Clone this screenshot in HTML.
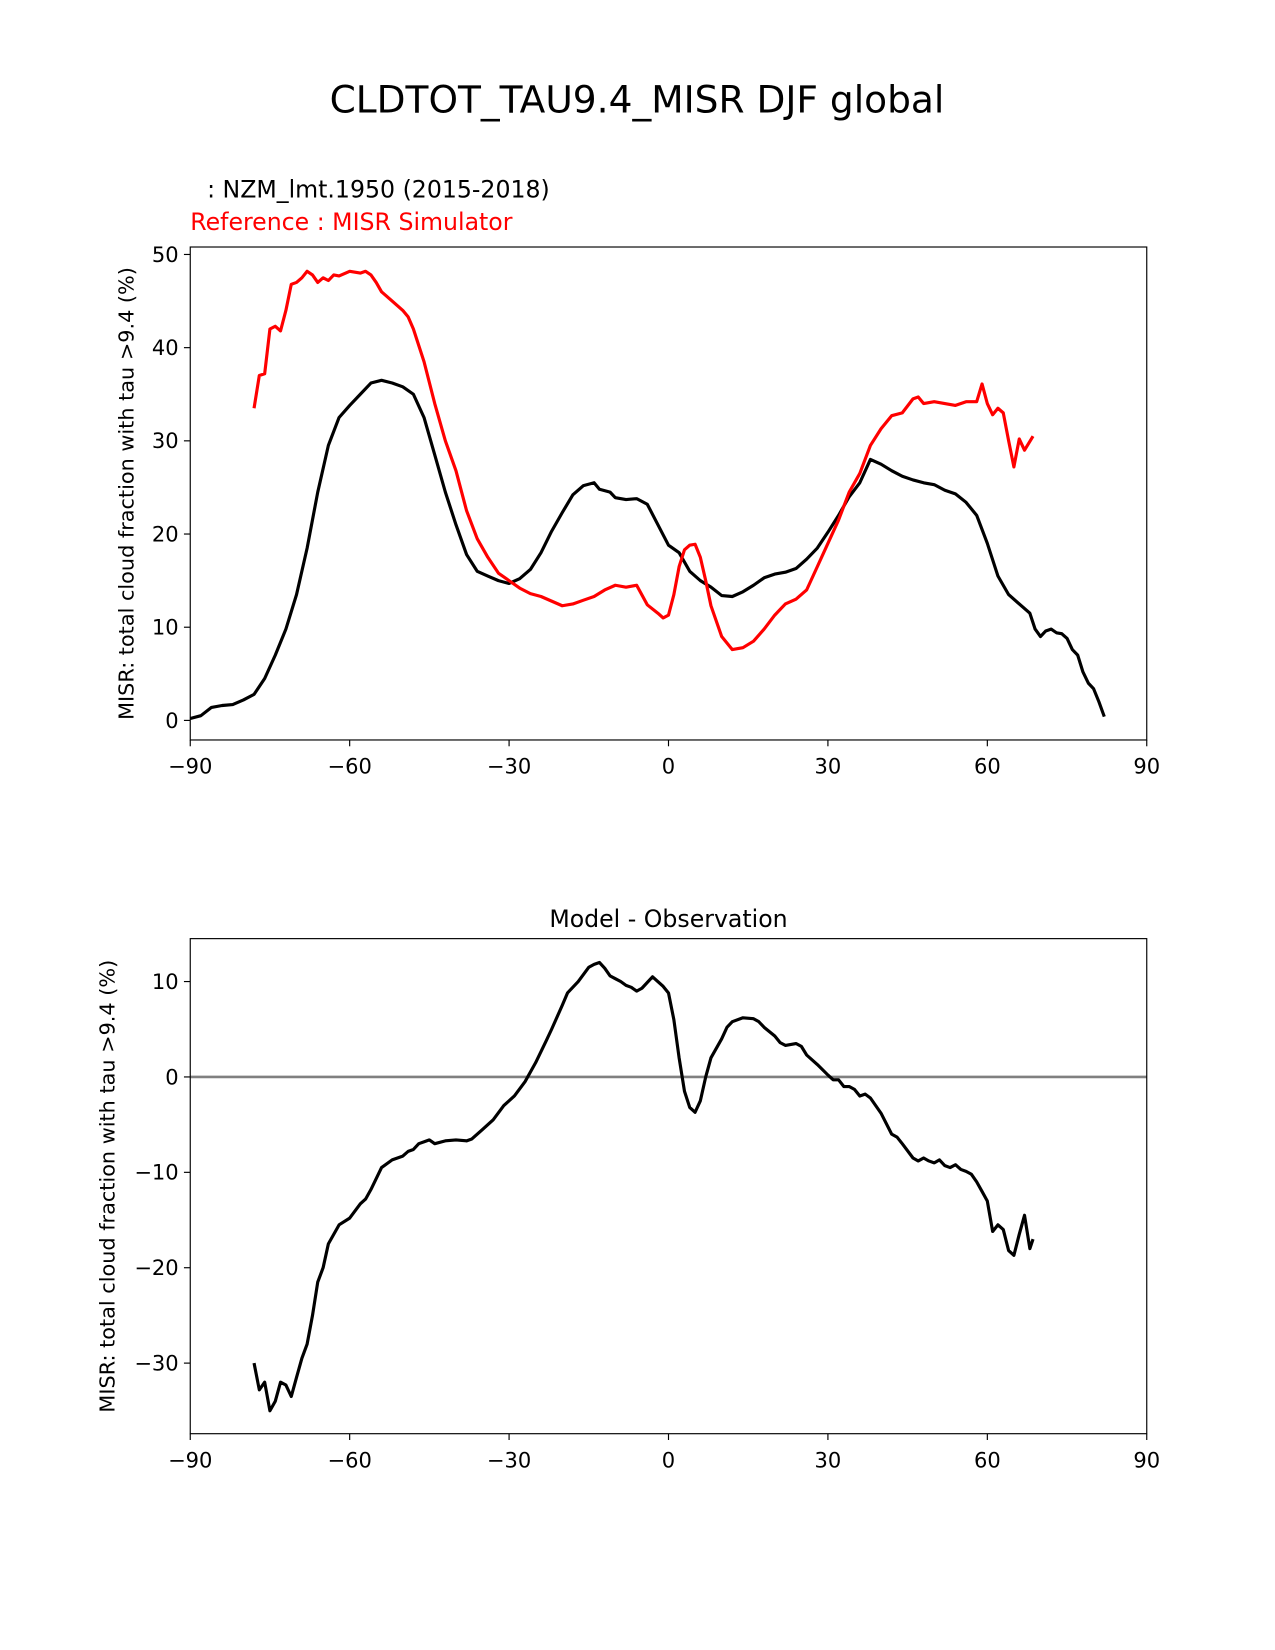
<!DOCTYPE html>
<html><head><meta charset="utf-8"><style>
html,body{margin:0;padding:0;background:#fff;}
svg{display:block;font-family:"DejaVu Sans","Liberation Sans",sans-serif;}
</style></head><body>
<svg id="chart" width="1275" height="1650" viewBox="0 0 1275 1650">
<g transform="scale(1.0511)">
<text x="606" y="107" font-size="35.7" text-anchor="middle">CLDTOT_TAU9.4_MISR DJF global</text>
<text x="197" y="188" font-size="22.5">: NZM_lmt.1950 (2015-2018)</text>
<text x="181" y="219" font-size="22.5" fill="#ff0000">Reference : MISR Simulator</text>
<text x="636" y="882" font-size="22.5" text-anchor="middle">Model - Observation</text>
<g id="top"></g>
<g id="bot"></g>
</g>
</svg>
<script>
const xTicks=[-90,-60,-30,0,30,60,90];
const topYTicks=[0,10,20,30,40,50];
const botYTicks=[-30,-20,-10,0,10];
const modelLat=[-90,-88,-86,-84,-82,-80,-78,-76,-74,-72,-70,-68,-66,-64,-62,-60,-58,-56,-54,-52,-50,-48,-46,-44,-42,-40,-38,-36,-34,-32,-30,-28,-26,-24,-22,-20,-18,-16,-14,-13,-11,-10,-8,-6,-4,-2,0,2,4,6,8,10,12,14,16,18,20,22,24,26,28,30,32,34,36,38,40,42,44,46,48,50,52,54,56,58,60,62,64,66,68,69,70,71,72,73,74,75,76,77,78,79,80,81,82];
const modelVal=[0.2,0.5,1.4,1.6,1.7,2.2,2.8,4.5,7,9.8,13.5,18.5,24.5,29.5,32.5,33.8,35,36.2,36.5,36.2,35.8,35,32.5,28.5,24.5,21,17.8,16,15.5,15,14.7,15.2,16.2,18,20.3,22.3,24.2,25.2,25.5,24.8,24.5,23.9,23.7,23.8,23.2,21,18.8,18,16,15,14.3,13.4,13.3,13.8,14.5,15.3,15.7,15.9,16.3,17.3,18.5,20.2,22,24,25.5,28,27.5,26.8,26.2,25.8,25.5,25.3,24.7,24.3,23.4,22,19,15.5,13.5,12.5,11.5,9.8,9,9.6,9.8,9.4,9.3,8.8,7.6,7,5.2,4,3.4,2,0.4];
const refLat=[-78,-77,-76,-75,-74,-73,-72,-71,-70,-69,-68,-67,-66,-65,-64,-63,-62,-60,-58,-57,-56,-55,-54,-52,-50,-49,-48,-46,-44,-42,-40,-38,-36,-34,-32,-30,-28,-26,-24,-22,-20,-18,-16,-14,-12,-10,-8,-6,-4,-2,-1,0,1,2,3,4,5,6,7,8,10,12,14,16,18,20,22,24,26,28,30,32,34,36,38,40,42,44,46,47,48,50,52,54,56,58,59,60,61,62,63,64,65,66,67,68.6];
const refVal=[33.5,37,37.2,42,42.3,41.8,44,46.8,47,47.5,48.2,47.8,47,47.5,47.2,47.8,47.7,48.2,48,48.2,47.8,47,46,45,44,43.3,42,38.5,34,30,26.8,22.5,19.5,17.5,15.8,15,14.2,13.6,13.3,12.8,12.3,12.5,12.9,13.3,14,14.5,14.3,14.5,12.4,11.5,11,11.3,13.5,16.5,18.3,18.8,18.9,17.5,15,12.3,9,7.6,7.8,8.5,9.8,11.3,12.5,13,14,16.5,19,21.5,24.5,26.5,29.5,31.3,32.7,33,34.5,34.7,34,34.2,34,33.8,34.2,34.2,36.1,34,32.8,33.5,33,30,27.2,30.2,29,30.5];
const diffLat=[-78,-77,-76,-75,-74,-73,-72,-71,-70,-69,-68,-67,-66,-65,-64,-62,-60,-58,-57,-56,-54,-52,-50,-49,-48,-47,-45,-44,-42,-40,-38,-37,-35,-33,-31,-29,-27,-25,-23,-22,-20,-19,-17,-15,-14,-13,-12,-11,-10,-9,-8,-7,-6,-5,-3,-1,0,1,2,3,4,5,6,7,8,10,11,12,14,16,17,18,20,21,22,24,25,26,28,30,31,32,33,34,35,36,37,38,40,42,43,44,46,47,48,49,50,51,52,53,54,55,56,57,58,59,60,61,62,63,64,65,66,67,68,68.6];
const diffVal=[-30,-32.8,-32,-35,-34,-32,-32.3,-33.5,-31.5,-29.5,-28,-25,-21.5,-20,-17.5,-15.5,-14.8,-13.3,-12.8,-11.8,-9.5,-8.7,-8.3,-7.8,-7.6,-7,-6.6,-7,-6.7,-6.6,-6.7,-6.5,-5.5,-4.5,-3,-2,-0.5,1.5,3.8,5,7.5,8.8,10,11.5,11.8,12,11.4,10.6,10.3,10,9.6,9.4,9,9.3,10.5,9.5,8.8,6,2,-1.5,-3.2,-3.7,-2.5,0,2,4,5.2,5.8,6.2,6.1,5.8,5.2,4.3,3.6,3.3,3.5,3.2,2.3,1.3,0.2,-0.3,-0.3,-1,-1,-1.3,-2,-1.8,-2.2,-3.8,-6,-6.3,-7,-8.5,-8.8,-8.5,-8.8,-9,-8.7,-9.3,-9.5,-9.2,-9.7,-9.9,-10.2,-11,-12,-13,-16.2,-15.5,-16,-18.2,-18.7,-16.5,-14.5,-18,-17,-19.2];

const NS="http://www.w3.org/2000/svg";
function mk(parent,tag,attrs){const e=document.createElementNS(NS,tag);for(const k in attrs)e.setAttribute(k,attrs[k]);parent.appendChild(e);return e;}
const L=181,R=1091;
const xs=v=>L+(v+90)/180*(R-L);
function panel(g,top,bot,y0,y1,yTicks,name,ylabX){
  const ys=v=>bot+(v-y0)/(y1-y0)*(top-bot);
  for(const t of xTicks){
    const tk=mk(g,'line',{x1:xs(t),x2:xs(t),y1:bot,y2:bot+6,stroke:'#000','stroke-width':1.1});
    
    
    const tx=mk(g,'text',{x:xs(t),y:bot+32,'font-size':20,'text-anchor':'middle'});
    tx.textContent=(t<0?'\u2212'+(-t):String(t));
    
    
  }
  for(const t of yTicks){
    const tk=mk(g,'line',{x1:L-6,x2:L,y1:ys(t),y2:ys(t),stroke:'#000','stroke-width':1.1});
    
    
    const tx=mk(g,'text',{x:L-11,y:ys(t)+7,'font-size':20,'text-anchor':'end'});
    tx.textContent=(t<0?'\u2212'+(-t):String(t));
    
    
  }
  const yl=mk(g,'text',{x:0,y:0,'font-size':19.8,'text-anchor':'middle',transform:`translate(${ylabX},${(top+bot)/2}) rotate(-90)`});
  yl.textContent='MISR: total cloud fraction with tau >9.4 (%)';
  
  
  return ys;
}
function line(g,lat,val,ys,color,name){
  const d=lat.map((x,i)=>(i?'L':'M')+xs(x).toFixed(1)+','+ys(val[i]).toFixed(1)).join('');
  const p=mk(g,'path',{d:d,fill:'none',stroke:color,'stroke-width':3,'stroke-linejoin':'round'});
  
  
}
function frame(g,top,bot){
  const r=mk(g,'rect',{x:L,y:top,width:R-L,height:bot-top,fill:'none',stroke:'#000','stroke-width':1.1});
  
  
}
const gt=document.getElementById('top');
const ysT=panel(gt,235,704,-2.1,50.8,topYTicks,'top',127);
line(gt,modelLat,modelVal,ysT,'#000','model-line');
line(gt,refLat,refVal,ysT,'#ff0000','reference-line');
frame(gt,235,704);
const gb=document.getElementById('bot');
const ysB=panel(gb,893,1364,-37.4,14.5,botYTicks,'bottom',109);
const z=mk(gb,'line',{x1:L,x2:R,y1:ysB(0),y2:ysB(0),stroke:'#808080','stroke-width':2.4});


line(gb,diffLat,diffVal,ysB,'#000','difference-line');
frame(gb,893,1364);
</script>
</body></html>
